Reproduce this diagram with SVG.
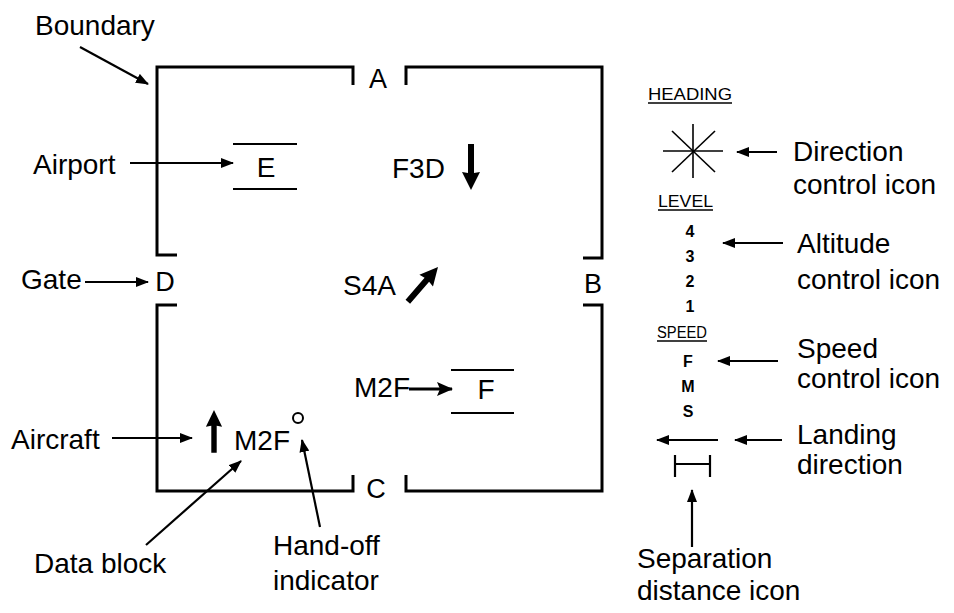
<svg xmlns="http://www.w3.org/2000/svg" width="954" height="613" viewBox="0 0 954 613">
<defs>
<marker id="ah" viewBox="0 0 13 10" refX="12" refY="5" markerWidth="13" markerHeight="10" markerUnits="userSpaceOnUse" orient="auto"><path d="M0,0 L13,5 L0,10 z" fill="#000"/></marker>
<marker id="ahb" viewBox="0 0 16 14" refX="15" refY="7" markerWidth="16" markerHeight="14" markerUnits="userSpaceOnUse" orient="auto"><path d="M0,0 L16,7 L0,14 L3,7 z" fill="#000"/></marker>
<path id="thick-arrow" d="M0,0 L9,18 L3,17 L3,46 L-3,46 L-3,17 L-9,18 z" fill="#000"/>
</defs>
<style>
text{font-family:"Liberation Sans",Arial,sans-serif;fill:#000}
.lb{font-size:28px}
.gt{font-size:27px}
.sm{font-size:16px}
.nm{font-size:16px;font-weight:bold;text-anchor:middle}
.bd{fill:none;stroke:#000;stroke-width:3;stroke-linejoin:miter}
.ln{fill:none;stroke:#000;stroke-width:2.2}
.th{fill:none;stroke:#000;stroke-width:1.6}
.ar{fill:none;stroke:#000;stroke-width:2.2;marker-end:url(#ah)}
</style>
<rect width="954" height="613" fill="#fff"/>

<g id="boundary">
<path class="bd" d="M177,255 L157,255 L157,67 L353,67 L353,85"/>
<path class="bd" d="M406,85 L406,67 L602,67 L602,258 L583,258"/>
<path class="bd" d="M583,305 L602,305 L602,491 L406,491 L406,475"/>
<path class="bd" d="M353,475 L353,491 L157,491 L157,305 L177,305"/>
</g>
<g id="gate-A"><text class="gt" x="378" y="88" text-anchor="middle">A</text></g>
<g id="gate-B"><text class="gt" x="593" y="293" text-anchor="middle">B</text></g>
<g id="gate-C"><text class="gt" x="376" y="498" text-anchor="middle">C</text></g>
<g id="gate-D"><text class="gt" x="165" y="291" text-anchor="middle">D</text></g>

<g id="airport-E">
<line class="ln" x1="233" y1="144" x2="297" y2="144"/>
<line class="ln" x1="233" y1="189" x2="297" y2="189"/>
<text class="lb" x="266" y="177" text-anchor="middle">E</text>
</g>
<g id="airport-F">
<line class="ln" x1="451" y1="370" x2="514" y2="370"/>
<line class="ln" x1="451" y1="413" x2="514" y2="413"/>
<text class="lb" x="486" y="399" text-anchor="middle">F</text>
</g>

<g id="aircraft-F3D">
<text class="lb" x="392" y="178">F3D</text>
<use href="#thick-arrow" transform="translate(471,190) rotate(180)"/>
</g>
<g id="aircraft-S4A">
<text class="lb" x="343" y="295">S4A</text>
<use href="#thick-arrow" transform="translate(438,267) rotate(41)"/>
</g>
<g id="aircraft-M2F-landing">
<text class="lb" x="354" y="397">M2F</text>
</g>
<g id="aircraft-M2F">
<use href="#thick-arrow" transform="translate(214,410) scale(0.9,0.93)"/>
<text class="lb" x="234" y="450">M2F</text>
<circle cx="298" cy="418" r="5" fill="none" stroke="#000" stroke-width="2"/>
</g>

<g id="labels-left">
<text class="lb" x="35" y="35">Boundary</text>
<text class="lb" x="33" y="174">Airport</text>
<text class="lb" x="21" y="289">Gate</text>
<text class="lb" x="11" y="449">Aircraft</text>
<text class="lb" x="34" y="573">Data block</text>
<text class="lb" x="273" y="555">Hand-off</text>
<text class="lb" x="273" y="590">indicator</text>
</g>

<g id="heading-icon">
<text class="sm" x="648" y="100" textLength="84" lengthAdjust="spacingAndGlyphs">HEADING</text>
<line class="th" x1="648" y1="103" x2="732" y2="103"/>
<g class="th">
<line x1="693" y1="124" x2="693" y2="178"/>
<line x1="663" y1="151" x2="723" y2="151"/>
<line x1="672" y1="131" x2="715" y2="172"/>
<line x1="715" y1="131" x2="672" y2="172"/>
</g>
</g>
<g id="level-icon">
<text class="sm" x="658" y="207" textLength="55" lengthAdjust="spacingAndGlyphs">LEVEL</text>
<line class="th" x1="658" y1="210" x2="713" y2="210"/>
<text class="nm" x="690" y="237">4</text>
<text class="nm" x="690" y="262">3</text>
<text class="nm" x="690" y="287">2</text>
<text class="nm" x="690" y="312">1</text>
</g>
<g id="speed-icon">
<text class="sm" x="657" y="338" textLength="50" lengthAdjust="spacingAndGlyphs">SPEED</text>
<line class="th" x1="657" y1="341" x2="707" y2="341"/>
<text class="nm" x="688" y="367">F</text>
<text class="nm" x="688" y="392">M</text>
<text class="nm" x="688" y="417">S</text>
</g>
<g id="landing-icon">
<line class="ar" x1="718" y1="440" x2="657" y2="440"/>
</g>
<g id="separation-icon">
<path class="ln" d="M675,455 L675,477 M710,455 L710,477 M675,464 L710,464"/>
</g>

<g id="labels-right">
<text class="lb" x="793" y="161">Direction</text>
<text class="lb" x="793" y="194">control icon</text>
<text class="lb" x="797" y="253">Altitude</text>
<text class="lb" x="797" y="289">control icon</text>
<text class="lb" x="797" y="358">Speed</text>
<text class="lb" x="797" y="388">control icon</text>
<text class="lb" x="797" y="444">Landing</text>
<text class="lb" x="797" y="474">direction</text>
<text class="lb" x="637" y="568">Separation</text>
<text class="lb" x="637" y="600">distance icon</text>
</g>

<g id="connectors">
<line class="ar" x1="80" y1="47" x2="148" y2="84"/>
<line class="ar" x1="130" y1="163" x2="233" y2="163"/>
<line class="ar" x1="85" y1="282" x2="148" y2="282"/>
<line class="ar" x1="112" y1="438" x2="192" y2="438"/>
<line class="ar" x1="146" y1="545" x2="241" y2="461"/>
<line class="ar" x1="320" y1="527" x2="302" y2="440"/>
<line x1="409" y1="389" x2="452" y2="389" stroke="#000" stroke-width="3" marker-end="url(#ahb)"/>
<line class="ar" x1="777" y1="152" x2="737" y2="152"/>
<line class="ar" x1="783" y1="243" x2="723" y2="243"/>
<line class="ar" x1="778" y1="361" x2="718" y2="361"/>
<line class="ar" x1="782" y1="440" x2="735" y2="440"/>
<line class="ar" x1="692" y1="547" x2="692" y2="490"/>
</g>
</svg>
